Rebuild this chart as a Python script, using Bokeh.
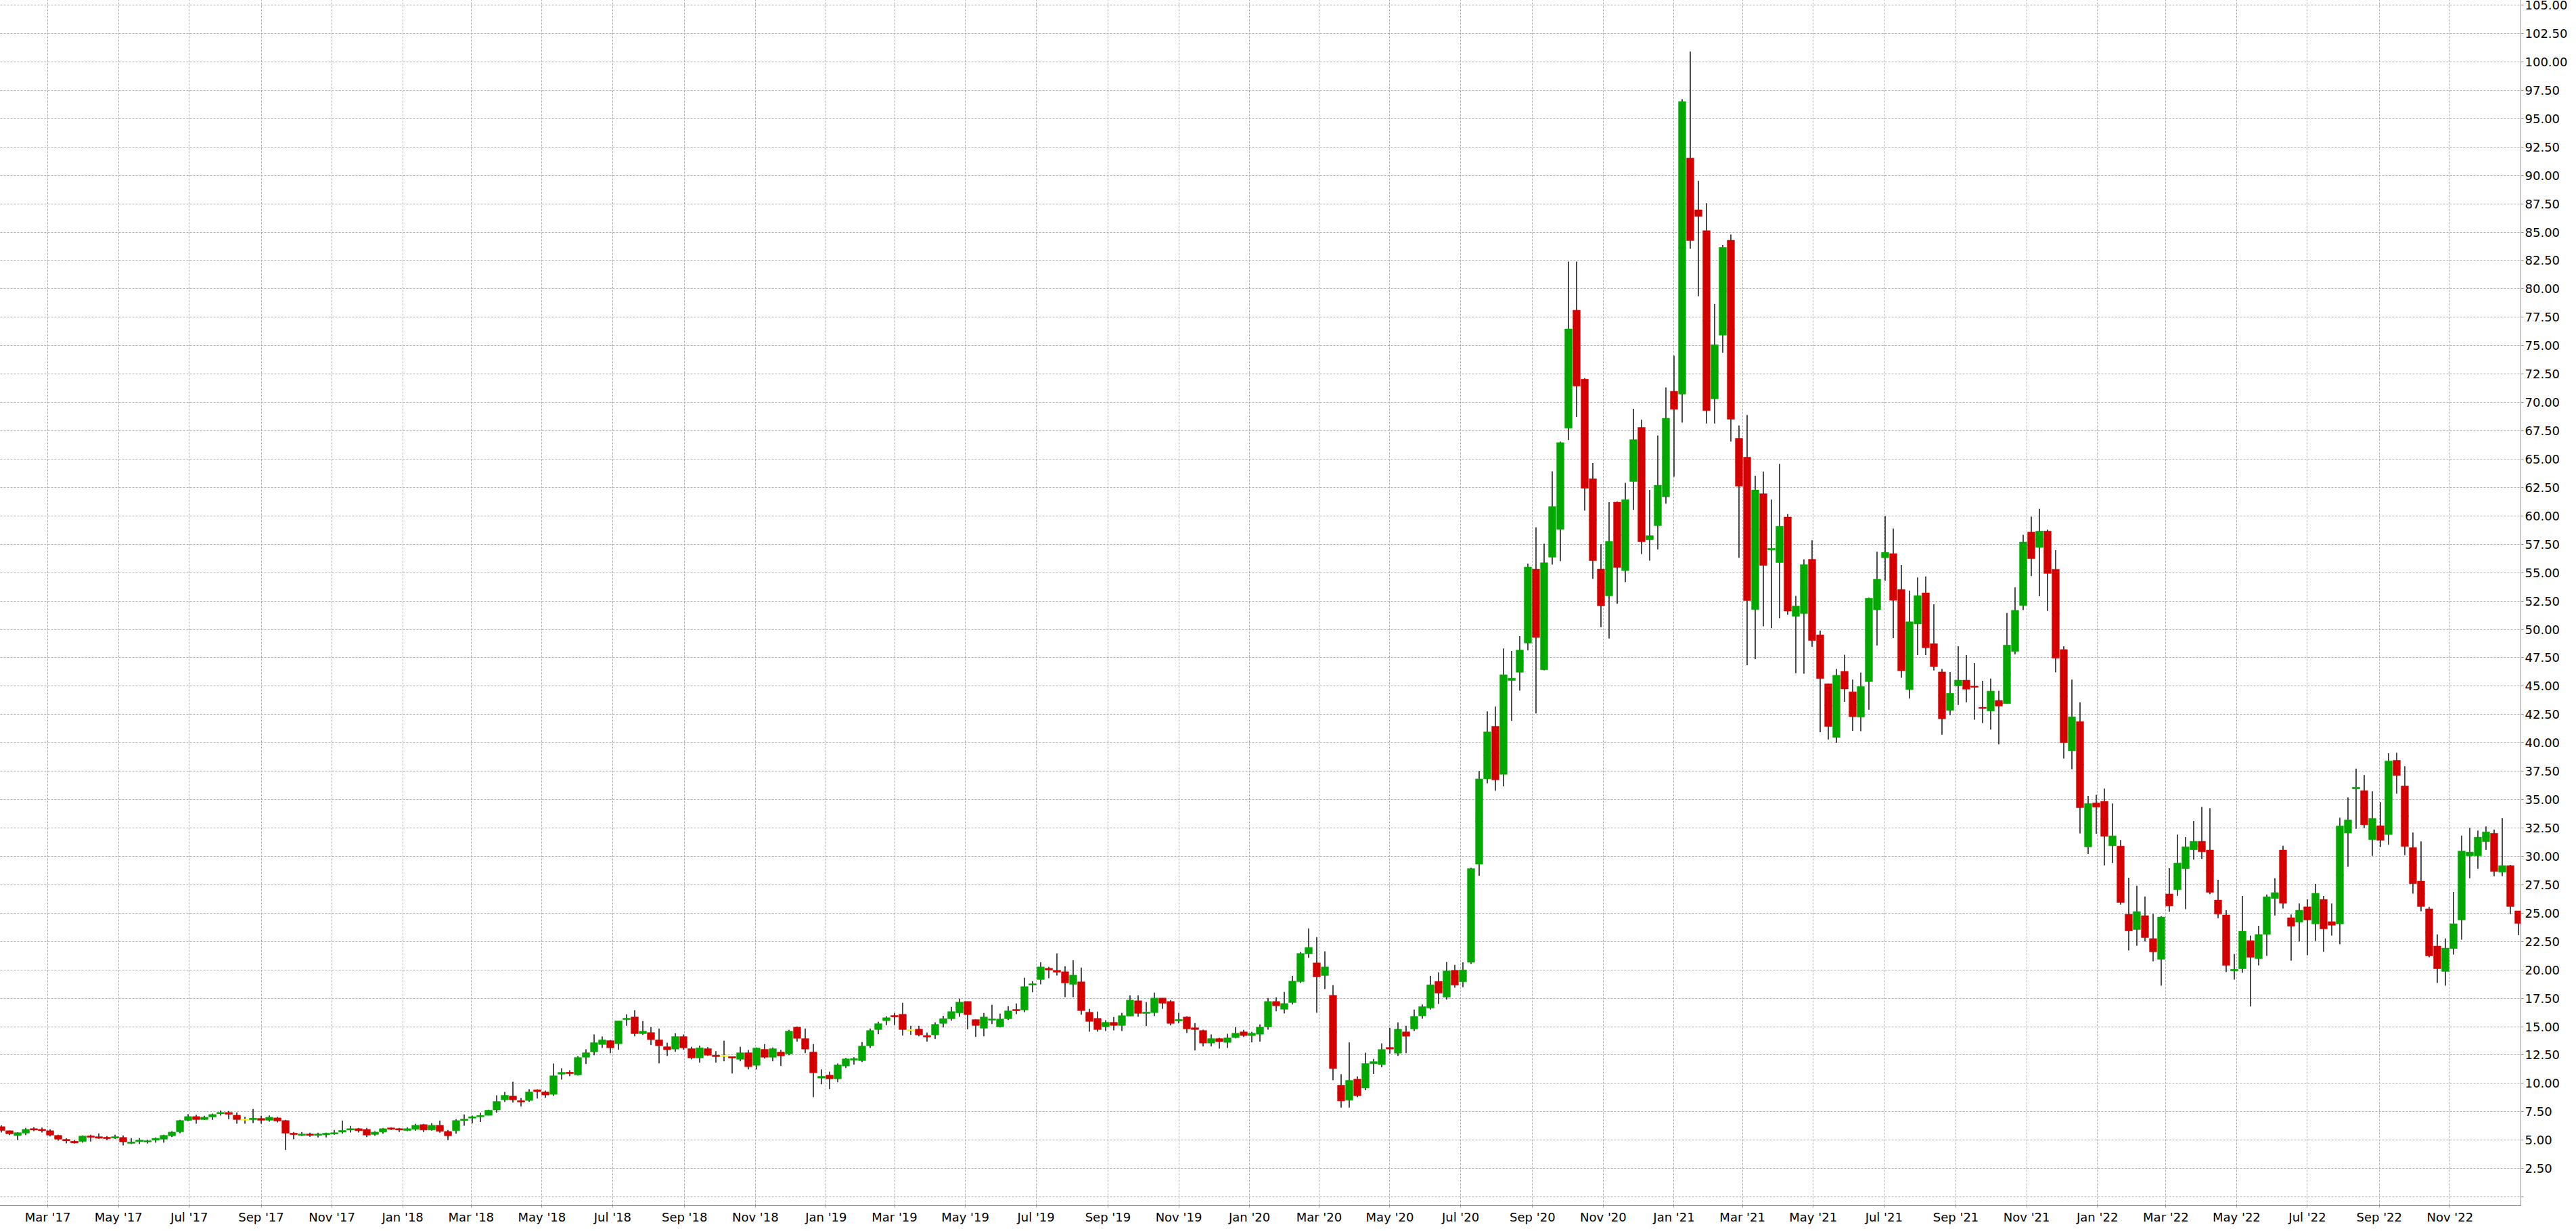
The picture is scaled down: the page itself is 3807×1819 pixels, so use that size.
import datetime as dt
from bokeh.plotting import figure
from bokeh.models import Range1d, FixedTicker, ColumnDataSource, NumeralTickFormatter
from bokeh.embed import file_html
from bokeh.resources import INLINE

# weekly candles, first week ending 2017-01-20
first_week = dt.datetime(2017, 1, 20)

opens = [6.19,5.83,5.40,5.62,6.01,5.95,5.83,5.42,5.06,4.90,4.88,5.36,5.30,5.24,5.18,5.24,4.72,4.88,4.84,5.00,
         5.08,5.38,5.73,6.73,7.08,6.81,7.04,7.32,7.44,7.20,6.80,6.81,6.91,6.75,6.96,6.73,5.60,5.42,5.54,5.42,
         5.48,5.54,5.71,5.89,6.01,5.95,5.50,5.71,6.07,6.01,5.85,5.95,6.37,5.89,6.31,5.77,5.83,6.73,6.94,7.06,
         7.18,7.66,8.55,8.89,8.47,8.49,9.43,9.25,9.03,10.81,10.97,10.75,12.30,12.78,13.43,13.77,13.49,15.63,15.85,14.38,
         14.48,13.83,13.23,13.02,14.13,13.06,12.24,13.06,12.48,12.42,12.36,12.12,12.70,11.59,13.00,12.30,12.76,12.60,14.96,13.95,
         12.76,10.46,10.73,10.40,11.53,12.06,12.00,13.31,14.74,15.52,15.97,16.09,14.70,14.78,14.21,14.27,15.28,15.69,16.21,17.22,
         15.62,14.86,15.58,14.98,15.69,16.51,16.47,18.67,19.15,20.14,19.96,19.84,18.73,18.95,16.27,15.73,14.98,15.38,15.10,15.93,
         17.28,16.17,16.23,17.52,17.22,15.52,15.85,14.90,14.66,13.55,13.95,13.61,14.03,14.54,14.21,14.33,14.98,17.22,16.53,17.12,
         18.97,21.41,20.62,19.50,17.76,9.84,8.51,10.38,9.58,11.73,11.65,13.17,12.66,14.54,14.80,15.95,16.63,18.99,17.60,19.96,
         18.95,20.66,29.31,36.83,41.46,37.22,45.50,46.22,48.80,55.31,46.44,56.36,58.81,67.73,78.13,72.05,63.27,55.31,52.95,61.21,
         55.18,63.03,67.80,57.89,59.14,61.69,70.98,70.73,91.53,86.97,85.13,70.31,75.92,84.29,66.84,65.17,51.74,61.95,57.01,55.88,
         59.90,51.15,51.40,56.17,49.52,45.21,40.48,46.30,44.50,42.27,45.39,51.73,56.31,56.68,53.52,44.70,50.48,53.22,48.75,46.25,
         42.86,45.02,45.53,44.99,43.13,42.81,43.74,43.45,48.06,52.10,58.58,57.22,58.65,55.30,48.22,39.29,41.88,30.83,34.71,34.85,
         30.93,30.91,24.90,23.55,24.78,22.76,20.93,26.69,27.06,28.91,30.58,31.33,30.56,26.15,24.84,19.92,20.10,22.58,20.99,23.13,
         26.29,30.56,24.60,24.21,25.56,24.05,26.21,24.25,24.05,32.06,35.95,35.79,31.47,32.70,31.92,38.47,36.21,30.77,27.82,25.38,
         22.10,19.86,21.88,24.39,30.04,30.04,31.29,32.04,28.61,29.19,25.20]

highs = [6.31,5.85,5.70,6.07,6.15,6.11,5.95,5.48,5.16,5.02,5.42,5.48,5.60,5.36,5.48,5.42,5.18,5.18,5.04,5.24,
         5.48,5.79,6.79,7.30,7.24,7.14,7.34,7.60,7.56,7.44,7.06,7.74,7.14,7.18,7.06,6.79,5.71,5.71,5.65,5.65,
         5.65,5.89,6.73,6.25,6.07,6.07,5.79,6.07,6.13,6.07,6.13,6.43,6.43,6.51,6.73,5.89,6.85,7.26,7.16,7.42,
         7.68,8.95,9.25,10.14,8.71,9.48,9.48,9.37,11.75,11.33,11.15,12.40,13.00,14.31,14.13,13.83,15.50,16.09,16.45,15.50,
         14.96,14.84,13.59,14.42,14.31,13.23,13.31,13.19,12.84,13.77,12.36,13.23,12.94,13.17,13.47,13.17,12.94,14.72,15.02,14.84,
         13.47,11.23,11.03,11.75,12.24,12.30,13.65,14.84,15.44,15.91,16.21,17.10,15.08,15.08,14.48,15.38,15.95,16.75,17.46,17.22,
         15.62,16.21,16.92,16.15,16.80,17.04,19.31,19.01,20.68,20.26,21.45,20.32,20.85,20.20,16.57,16.33,15.56,15.85,16.21,17.76,
         17.76,17.16,17.99,17.52,17.34,16.21,15.91,15.32,14.74,14.31,14.01,14.37,14.96,14.72,14.54,15.20,17.52,17.58,18.06,19.48,
         21.57,23.65,22.88,21.63,18.65,10.81,13.61,10.62,12.70,12.16,13.53,14.90,15.38,15.08,16.51,16.95,19.48,19.78,20.70,20.44,
         20.66,29.00,37.53,42.77,43.21,48.32,48.10,49.41,55.80,58.99,57.54,63.92,66.55,82.41,82.41,72.14,64.67,57.50,61.21,61.25,
         62.91,69.44,68.47,62.28,67.09,71.32,74.12,96.72,100.90,89.52,87.55,78.68,83.87,84.79,67.97,68.89,63.54,63.91,61.44,64.58,
         60.15,52.95,56.17,57.85,49.90,45.21,46.51,47.76,45.58,46.20,52.80,56.84,59.99,58.89,55.67,53.41,54.58,54.66,52.21,46.51,
         46.25,48.51,47.74,47.02,45.47,45.66,44.59,51.44,53.70,58.34,59.93,60.63,58.79,56.98,48.51,45.58,43.58,35.33,35.43,35.97,
         34.66,31.45,28.12,27.42,26.47,24.94,24.74,28.95,31.92,31.69,33.12,34.37,34.25,27.94,25.26,21.39,26.51,23.02,23.89,26.65,
         28.08,30.93,24.88,25.85,26.21,27.58,26.51,25.85,33.41,35.20,37.74,37.16,35.73,34.78,39.09,39.13,37.94,32.10,31.33,25.54,
         23.12,22.76,26.87,31.83,32.52,32.28,32.64,32.36,33.37,29.25,25.20]

lows = [5.67,5.44,5.00,5.44,5.79,5.67,5.32,4.96,4.72,4.70,4.78,4.88,5.12,5.00,5.10,4.54,4.66,4.66,4.70,4.78,
        4.78,5.26,5.61,6.67,6.45,6.77,6.79,7.16,6.85,6.45,6.45,6.51,6.45,6.63,6.57,4.13,5.08,5.36,5.30,5.24,
        5.24,5.48,5.56,5.67,5.67,5.26,5.38,5.56,5.89,5.71,5.79,5.83,5.71,5.83,5.65,5.00,5.56,6.27,6.47,6.59,
        7.18,7.42,8.37,8.31,7.96,8.37,8.67,8.73,8.91,10.34,10.63,10.69,11.71,12.48,13.13,12.66,12.96,15.08,14.15,14.27,
        13.37,11.77,12.42,12.78,12.96,12.12,11.83,12.42,11.83,11.94,10.87,11.94,11.23,11.23,12.18,11.94,11.53,12.48,13.67,12.66,
        8.79,9.92,9.50,10.10,11.35,11.65,11.88,13.13,14.33,15.14,15.14,14.21,14.27,14.15,13.67,13.91,14.92,15.52,15.87,14.76,
        14.09,14.15,15.22,14.92,15.58,16.11,16.27,18.02,18.73,19.27,19.50,17.60,17.60,16.05,14.56,14.56,14.62,14.68,14.62,15.93,
        15.87,15.04,15.93,16.57,15.10,15.28,14.44,12.90,13.25,13.25,13.07,13.13,13.97,14.09,13.61,13.67,14.74,16.35,16.17,16.95,
        18.85,21.05,16.23,18.31,10.28,7.86,7.86,8.79,9.40,10.83,11.43,12.60,12.42,12.66,14.62,15.70,16.50,17.00,17.38,18.43,
        18.47,20.53,28.30,36.43,35.78,36.17,41.94,44.61,48.15,42.60,46.40,55.71,56.01,66.68,68.73,60.47,54.44,50.20,49.20,52.25,
        54.16,60.52,56.63,56.05,57.05,61.07,63.45,68.22,83.54,79.35,68.14,68.14,74.37,66.55,56.30,46.84,47.38,50.27,50.10,50.98,
        51.28,46.13,46.09,48.47,40.94,40.30,40.00,43.62,41.05,41.03,42.92,48.59,54.29,49.23,45.74,43.90,47.74,47.74,46.38,40.71,
        42.44,43.34,43.58,42.04,41.74,41.18,39.88,43.45,47.79,51.70,54.69,52.93,51.62,46.22,38.63,37.67,32.02,30.21,32.00,29.20,
        29.41,25.75,21.71,22.12,22.50,20.75,18.61,25.12,26.53,25.34,29.72,29.78,26.67,24.56,19.80,19.15,19.74,16.77,20.40,21.23,
        24.80,25.40,20.81,22.50,21.29,22.56,21.59,23.02,22.26,29.09,32.42,32.48,30.04,30.81,31.03,35.52,30.10,26.71,25.16,21.11,
        18.85,18.61,21.35,22.66,28.08,28.91,30.58,28.25,28.25,24.92,23.06]

closes = [5.85,5.55,5.66,5.95,5.89,5.83,5.44,5.08,4.94,4.76,5.36,5.26,5.16,5.14,5.30,4.84,4.84,5.00,4.94,5.16,
          5.42,5.71,6.73,7.08,6.81,7.02,7.26,7.44,7.28,6.81,6.80,6.93,6.75,7.02,6.69,5.61,5.50,5.54,5.42,5.54,
          5.60,5.65,5.85,6.01,5.83,5.44,5.71,6.01,5.97,5.89,6.01,6.31,5.89,6.31,5.77,5.38,6.73,6.85,7.06,7.16,
          7.64,8.41,8.95,8.55,8.37,9.25,9.27,8.97,10.67,10.97,10.87,12.28,12.70,13.59,13.83,13.13,15.50,15.73,14.38,14.60,
          13.85,13.31,12.96,14.13,13.13,12.24,13.13,12.48,12.36,12.42,12.24,12.70,11.47,13.11,12.30,13.06,12.42,14.60,13.97,13.02,
          10.93,10.62,10.40,11.63,12.16,12.18,13.29,14.66,15.26,15.79,15.87,14.74,14.70,14.27,14.09,15.20,15.71,16.33,17.16,16.05,
          15.10,15.85,15.67,15.67,16.39,16.41,18.53,18.77,20.26,19.98,19.80,18.85,19.54,16.41,15.46,14.74,15.38,15.10,15.97,17.34,
          16.17,16.27,17.52,17.06,15.28,15.62,14.80,14.74,13.55,13.95,13.67,14.01,14.42,14.21,14.42,14.96,17.22,16.83,17.04,19.01,
          21.45,21.98,19.38,20.26,11.31,8.45,10.26,8.91,11.75,11.92,12.99,13.02,14.78,14.15,15.91,16.77,18.69,17.95,19.91,18.65,
          20.00,28.92,36.83,40.98,36.74,46.01,45.70,48.19,55.49,49.28,55.88,60.82,66.46,76.47,71.44,62.44,56.06,52.08,57.76,55.45,
          61.43,66.72,57.72,58.26,62.70,68.60,69.39,96.51,84.25,86.38,69.27,75.08,83.66,68.51,62.62,52.53,62.28,55.63,57.13,59.10,
          51.61,52.07,55.71,49.02,45.67,41.44,45.96,44.75,42.31,44.97,52.74,54.42,56.79,52.56,46.35,50.67,52.98,48.38,46.72,42.12,
          44.38,45.53,44.73,44.91,43.05,44.57,43.24,48.62,51.68,57.70,56.23,58.65,54.93,47.47,40.01,42.30,34.29,34.66,34.34,31.76,
          31.81,25.93,23.43,25.14,22.84,21.59,24.66,25.63,29.42,30.85,31.33,30.40,26.83,24.92,20.40,20.04,23.41,21.11,23.12,26.45,
          26.81,25.87,23.85,25.26,24.39,26.75,23.61,23.93,32.68,33.21,36.09,32.78,33.35,31.41,38.41,37.12,30.87,27.60,25.58,21.23,
          20.10,21.92,24.07,30.48,30.38,31.69,32.16,28.67,29.19,25.58,24.09]

tick_dates = ["2017-03-01","2017-05-01","2017-07-01","2017-09-01","2017-11-01",
              "2018-01-01","2018-03-01","2018-05-01","2018-07-01","2018-09-01","2018-11-01",
              "2019-01-01","2019-03-01","2019-05-01","2019-07-01","2019-09-01","2019-11-01",
              "2020-01-01","2020-03-01","2020-05-01","2020-07-01","2020-09-01","2020-11-01",
              "2021-01-01","2021-03-01","2021-05-01","2021-07-01","2021-09-01","2021-11-01",
              "2022-01-01","2022-03-01","2022-05-01","2022-07-01","2022-09-01","2022-11-01"]
tick_labels = ["Mar '17","May '17","Jul '17","Sep '17","Nov '17",
               "Jan '18","Mar '18","May '18","Jul '18","Sep '18","Nov '18",
               "Jan '19","Mar '19","May '19","Jul '19","Sep '19","Nov '19",
               "Jan '20","Mar '20","May '20","Jul '20","Sep '20","Nov '20",
               "Jan '21","Mar '21","May '21","Jul '21","Sep '21","Nov '21",
               "Jan '22","Mar '22","May '22","Jul '22","Sep '22","Nov '22"]
price_ticks = [i * 2.5 for i in range(43)]

UP, DOWN, FLAT = "#00a800", "#d40000", "#ffff00"
DAY = 86400000.0
EPOCH = dt.datetime(1970, 1, 1)


def ms(d):
    return (d - EPOCH).total_seconds() * 1000.0


n = len(opens)
xs = [ms(first_week + dt.timedelta(weeks=i)) for i in range(n)]
colors = [UP if c > o else (DOWN if c < o else FLAT) for o, c in zip(opens, closes)]
src = ColumnDataSource(dict(
    x=xs, o=opens, h=highs, l=lows, c=closes,
    top=[max(o, c) for o, c in zip(opens, closes)],
    bot=[min(o, c) for o, c in zip(opens, closes)],
    mid=[(o + c) / 2 for o, c in zip(opens, closes)],
    color=colors,
))

x0 = xs[0] - 3.8 * DAY
x1 = xs[-1] + 2.05 * DAY

p = figure(frame_width=3730, frame_height=1789,
           x_range=Range1d(x0, x1), y_range=Range1d(-0.77, 105.9),
           y_axis_location="right", output_backend="svg", toolbar_location=None,
           min_border_left=3, min_border_top=0, min_border_right=74, min_border_bottom=30,
           background_fill_color="white", border_fill_color="white",
           margin=(-8, 0, 0, -8))
p.outline_line_color = "#a0a0a0"

tick_ms = [ms(dt.datetime.strptime(s, "%Y-%m-%d")) for s in tick_dates]
p.xaxis.ticker = FixedTicker(ticks=tick_ms)
p.xaxis.major_label_overrides = {t: lab for t, lab in zip(tick_ms, tick_labels)}
p.xgrid.ticker = FixedTicker(ticks=tick_ms)
p.yaxis.ticker = FixedTicker(ticks=price_ticks)
p.ygrid.ticker = FixedTicker(ticks=price_ticks)
p.yaxis.formatter = NumeralTickFormatter(format="0.00")
p.yaxis.major_label_overrides = {0: ""}

for ax in (p.xaxis[0], p.yaxis[0]):
    ax.axis_line_color = "#909090"
    ax.major_tick_line_color = "#909090"
    ax.minor_tick_line_color = None
    ax.major_tick_in = 0
    ax.major_label_text_font = "DejaVu Sans"
    ax.major_label_text_font_size = "18px"
    ax.major_label_text_color = "black"
p.xaxis.major_tick_out = 3
p.xaxis.major_label_standoff = 3
p.yaxis.major_tick_out = 4
p.yaxis.major_label_standoff = 2

for g in (p.xgrid[0], p.ygrid[0]):
    g.grid_line_color = "#b0b0b0"
    g.grid_line_dash = "3 2"
    g.grid_line_width = 1

body_w = 0.9 * 7 * DAY
p.segment(x0="x", y0="l", x1="x", y1="h", source=src, line_color="black", line_width=1.4)
p.vbar(x="x", top="top", bottom="bot", width=body_w, source=src,
       fill_color="color", line_color="color", line_width=0.5)
p.rect(x="x", y="mid", width=body_w, height=2, height_units="screen", source=src,
       fill_color="color", line_color=None)

open("out.html", "w").write(file_html(p, INLINE))
